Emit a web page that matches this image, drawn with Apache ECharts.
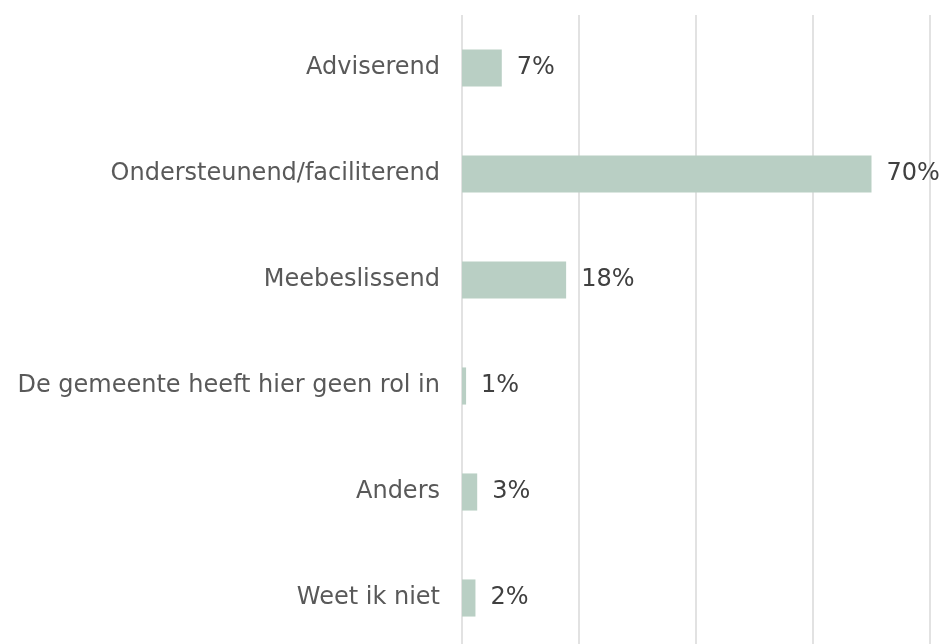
<!DOCTYPE html>
<html>
<head>
<meta charset="utf-8">
<script src="https://cdn.jsdelivr.net/npm/echarts@6/dist/echarts.min.js"></script>
<style>
  html, body { margin: 0; padding: 0; background: #fff; }
  #chart { width: 946px; height: 644px; }
</style>
</head>
<body>
<div id="chart"></div>
<script>
// categories, top to bottom
const categories = [
    'Adviserend',
    'Ondersteunend/faciliterend',
    'Meebeslissend',
    'De gemeente heeft hier geen rol in',
    'Anders',
    'Weet ik niet'
];
// share in percent
const shares = [6.8, 70, 17.8, 0.7, 2.6, 2.3];

const myChart = echarts.init(document.getElementById('chart'));

const option = {
    animation: false,
    textStyle: { fontFamily: 'DejaVu Sans' },
    grid: {
        left: 462,
        right: 16,
        top: 15,
        height: 636,
        outerBoundsMode: 'none'
    },
    xAxis: {
        type: 'value',
        min: 0,
        max: 80,
        interval: 20,
        axisLabel: { show: false },
        axisLine: { show: false },
        axisTick: { show: false },
        splitLine: { lineStyle: { color: '#d9d9d9', width: 1.5 } }
    },
    yAxis: {
        type: 'category',
        inverse: true,
        data: categories,
        axisLine: { show: false },
        axisTick: { show: false },
        axisLabel: {
            margin: 22,
            fontSize: 24,
            color: '#595959'
        }
    },
    series: [
        {
            type: 'bar',
            barWidth: '35%',
            data: shares,
            itemStyle: { color: '#b9cfc4' },
            label: {
                show: true,
                position: 'right',
                distance: 15,
                fontSize: 24,
                color: '#404040',
                formatter: p => Math.round(p.value) + '%'
            }
        }
    ]
};

myChart.setOption(option);
</script>
</body>
</html>
